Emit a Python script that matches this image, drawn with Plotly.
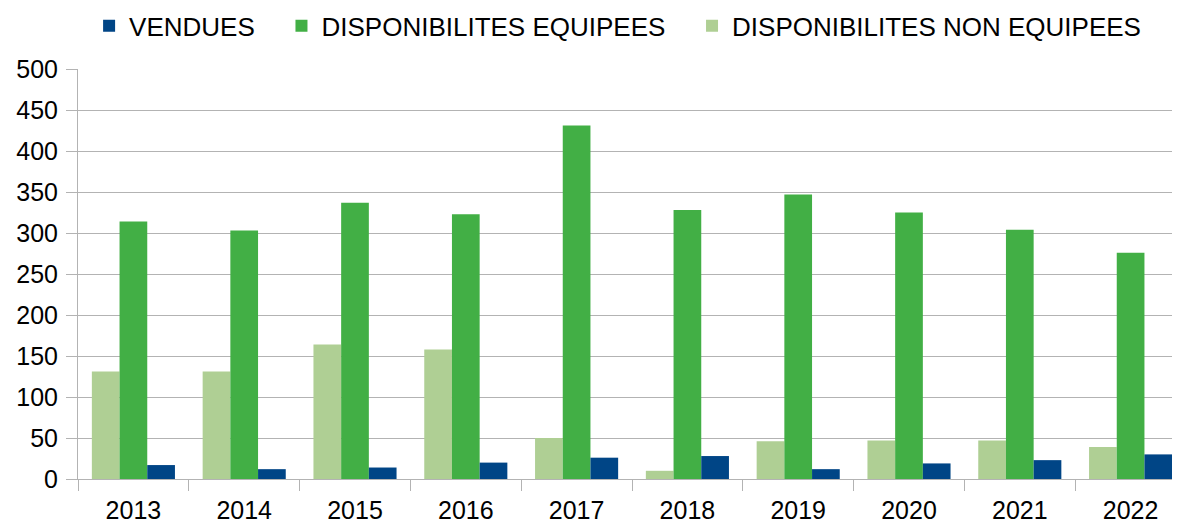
import plotly.graph_objects as go

years = ["2013", "2014", "2015", "2016", "2017", "2018", "2019", "2020", "2021", "2022"]
vendues = [17, 12, 14, 20, 26, 28, 12, 19, 23, 30]
dispo_equipees = [314, 303, 337, 323, 431, 328, 347, 325, 304, 276]
dispo_non_equipees = [131, 131, 164, 158, 50, 10, 46, 47, 47, 39]

pad = "\u00a0\u00a0\u00a0"
fig = go.Figure()
fig.add_trace(go.Bar(x=years, y=dispo_non_equipees, name="DISPONIBILITES NON EQUIPEES",
                     marker_color="#AFCF94", marker_line_width=0))
fig.add_trace(go.Bar(x=years, y=dispo_equipees, name="DISPONIBILITES EQUIPEES" + pad,
                     marker_color="#42AF45", marker_line_width=0))
fig.add_trace(go.Bar(x=years, y=vendues, name="VENDUES" + pad,
                     marker_color="#004586", marker_line_width=0))

font = "Liberation Sans, Arial, sans-serif"
fig.update_layout(
    width=1180, height=523,
    margin=dict(l=70, r=2, t=61, b=52, autoexpand=False),
    paper_bgcolor="white", plot_bgcolor="white",
    barmode="group", bargap=0.25, bargroupgap=0,
    font=dict(family=font, size=25, color="#000000"),
    legend=dict(orientation="h", x=0.487, xanchor="center", y=1.105, yanchor="middle",
                traceorder="reversed", font=dict(size=26), itemwidth=30),
    showlegend=True,
)
fig.update_yaxes(range=[0, 500], dtick=50, showgrid=True, gridcolor="#B3B3B3", gridwidth=1,
                 showline=True, linecolor="#B3B3B3", linewidth=1,
                 ticks="outside", ticklen=11, tickcolor="#B3B3B3", ticklabelstandoff=3,
                 tickfont=dict(size=25), zeroline=False)
fig.update_xaxes(showline=True, linecolor="#B3B3B3", linewidth=1,
                 ticks="outside", ticklen=11, tickcolor="#B3B3B3", tickson="boundaries",
                 ticklabelstandoff=9,
                 tickfont=dict(size=25), showgrid=False)

fig.write_html("out.html")
